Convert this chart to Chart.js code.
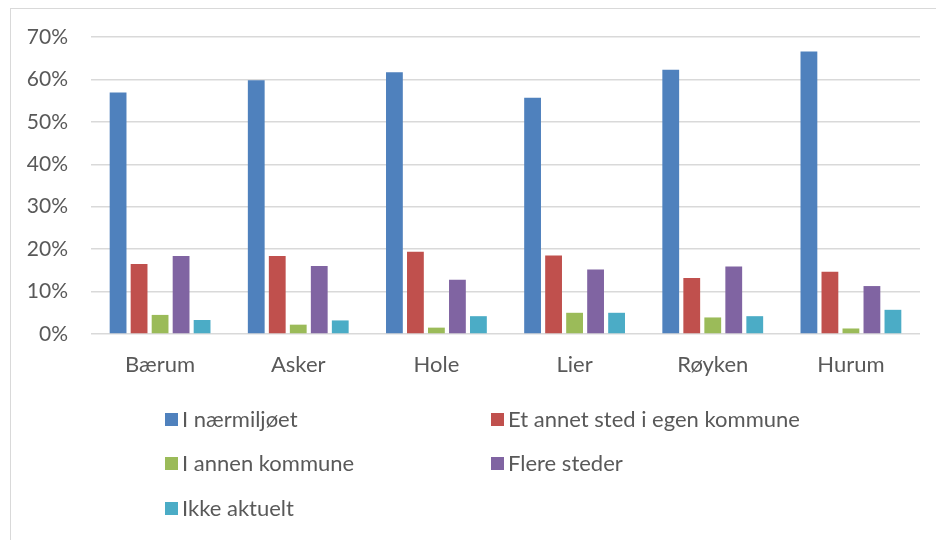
<!DOCTYPE html>
<html>
<head>
<meta charset="utf-8">
<script src="https://cdn.jsdelivr.net/npm/chart.js@4"></script>
<style>
  body { margin: 0; background: #fff; font-family: Lato, sans-serif; }
  #frame {
    position: absolute; left: 10px; top: 8px; width: 960px; height: 560px;
    border: 1px solid #d9d9d9; box-sizing: border-box;
  }
  #wrap { position: absolute; left: 0; top: 0; width: 936px; height: 380px; }
  #legend { position: absolute; left: 0; top: 0; width: 936px; height: 540px; }
  .item {
    position: absolute; display: flex; align-items: center;
    font-size: 22px; color: #595959; line-height: 24px; white-space: nowrap;
  }
  .box { width: 13px; height: 13px; margin-right: 4px; }
</style>
</head>
<body>
<div id="frame"></div>
<div id="wrap"><canvas id="chart"></canvas></div>
<div id="legend"></div>
<script>
const kommuner = ['Bærum', 'Asker', 'Hole', 'Lier', 'Røyken', 'Hurum'];

const naermiljoet = [56.9, 59.8, 61.7, 55.7, 62.3, 66.6];
const egenKommune = [16.5, 18.4, 19.4, 18.5, 13.2, 14.7];
const annenKommune = [4.5, 2.2, 1.5, 5.0, 3.9, 1.3];
const flereSteder = [18.4, 16.0, 12.8, 15.2, 15.9, 11.3];
const ikkeAktuelt = [3.3, 3.2, 4.2, 5.0, 4.2, 5.7];

const yTicks = [0, 10, 20, 30, 40, 50, 60, 70];

const series = [
  { label: 'I nærmiljøet', data: naermiljoet, color: '#4f81bd' },
  { label: 'Et annet sted i egen kommune', data: egenKommune, color: '#c0504d' },
  { label: 'I annen kommune', data: annenKommune, color: '#9bbb59' },
  { label: 'Flere steder', data: flereSteder, color: '#8064a2' },
  { label: 'Ikke aktuelt', data: ikkeAktuelt, color: '#4bacc6' }
];

const chart = new Chart(document.getElementById('chart'), {
  type: 'bar',
  data: {
    labels: kommuner,
    datasets: series.map(s => ({
      label: s.label,
      data: s.data,
      backgroundColor: s.color,
      categoryPercentage: 0.76,
      barPercentage: 0.8
    }))
  },
  options: {
    responsive: true,
    maintainAspectRatio: false,
    animation: false,
    layout: { padding: { left: 0, top: 37, right: 16, bottom: 0 } },
    plugins: {
      legend: { display: false },
      tooltip: { enabled: false }
    },
    scales: {
      x: {
        grid: { display: false, drawTicks: false },
        border: { display: false },
        ticks: { color: '#595959', font: { family: 'Lato', size: 22 }, padding: 18 },
        afterFit: s => { s.height = 46; }
      },
      y: {
        min: 0,
        max: 70,
        afterBuildTicks: s => { s.ticks = yTicks.map(v => ({ value: v })); },
        grid: { color: '#d9d9d9', lineWidth: 1.5, drawTicks: false },
        border: { display: false },
        ticks: {
          color: '#595959',
          font: { family: 'Lato', size: 21 },
          padding: 23,
          callback: v => v + '%'
        },
        afterFit: s => { s.width = 91; }
      }
    }
  }
});

// legend in two columns below the plot
const legendCols = [165, 491];
const legendRows = [419, 463, 508];
const legendEl = document.getElementById('legend');
chart.data.datasets.forEach((ds, i) => {
  const item = document.createElement('div');
  item.className = 'item';
  item.style.left = legendCols[i % 2] + 'px';
  item.style.top = (legendRows[Math.floor(i / 2)] - 12) + 'px';
  const box = document.createElement('span');
  box.className = 'box';
  box.style.background = ds.backgroundColor;
  item.appendChild(box);
  item.appendChild(document.createTextNode(ds.label));
  legendEl.appendChild(item);
});
</script>
</body>
</html>
